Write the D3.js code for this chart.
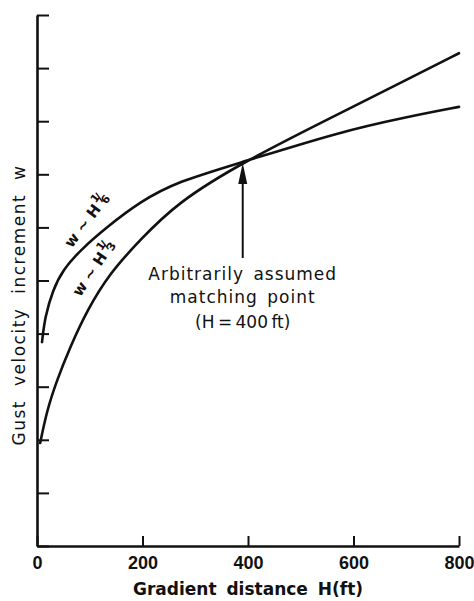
<!DOCTYPE html>
<html>
<head>
<meta charset="utf-8">
<script src="https://cdn.jsdelivr.net/npm/d3@7"></script>
<style>
  body { margin: 0; background: #fff; }
  text { font-family: "DejaVu Sans", sans-serif; fill: #111; }
</style>
</head>
<body>
<svg id="chart" width="474" height="601"></svg>
<script>
// values
const xTicks = [0, 200, 400, 600, 800];
const yTicks = [0, 1, 2, 3, 4, 5, 6, 7, 8, 9, 10];

// w ~ H^(1/6)
const gradientH6 = [9.5, 15, 30, 49, 82, 133, 195, 265, 390, 574, 701, 800];
const gustW6 = [3.84, 4.31, 4.82, 5.20, 5.57, 6.01, 6.48, 6.86, 7.23, 7.80, 8.08, 8.27];

// w ~ H^(1/3)
const gradientH3 = [6, 19, 38, 63, 95, 138, 195, 265, 390, 574, 701, 800];
const gustW3 = [1.94, 2.56, 3.13, 3.75, 4.44, 5.14, 5.76, 6.46, 7.23, 8.15, 8.78, 9.28];

// matching point
const matchH = 390;
const matchW = 7.23;
const noteLines = ["Arbitrarily assumed", "matching point", "(H = 400 ft)"];

const svg = d3.select("#chart");

const x = d3.scaleLinear().domain([0, 800]).range([37, 459]);
const y = d3.scaleLinear().domain([0, 10]).range([546, 15]);

// x axis
const xAxis = svg.append("g")
    .attr("transform", `translate(0,${y(0)})`)
    .call(d3.axisBottom(x).tickValues(xTicks).tickSize(-10).tickSizeOuter(0).tickPadding(10));
xAxis.select(".domain").attr("stroke", "#111").attr("stroke-width", 2.6);
xAxis.selectAll(".tick line").attr("stroke", "#111").attr("stroke-width", 2);
xAxis.selectAll(".tick text")
    .attr("fill", "#111")
    .style("font-family", "'Liberation Sans', sans-serif")
    .style("font-weight", "bold")
    .style("font-size", "18px");

// y axis, no numbers
const yAxis = svg.append("g")
    .attr("transform", `translate(${x(0)},0)`)
    .call(d3.axisLeft(y).tickValues(yTicks).tickSize(-12).tickSizeOuter(0).tickFormat(""));
yAxis.select(".domain").attr("stroke", "#111").attr("stroke-width", 2.6);
yAxis.selectAll(".tick line").attr("stroke", "#111").attr("stroke-width", 2);

// axis titles
svg.append("text")
    .attr("x", 248)
    .attr("y", 595)
    .attr("text-anchor", "middle")
    .style("font-size", "17px")
    .style("font-weight", "bold")
    .style("word-spacing", "4px")
    .text("Gradient distance H(ft)");

svg.append("text")
    .attr("transform", "translate(25,305) rotate(-90)")
    .attr("text-anchor", "middle")
    .style("font-size", "17px")
    .style("letter-spacing", "1.5px")
    .style("word-spacing", "7px")
    .text("Gust velocity increment w");

// curves
const line = d3.line()
    .x(d => x(d[0]))
    .y(d => y(d[1]))
    .curve(d3.curveBasis);

const curves = [
    d3.zip(gradientH6, gustW6),
    d3.zip(gradientH3, gustW3)
];

svg.selectAll(".curve")
    .data(curves)
    .enter().append("path")
    .attr("class", "curve")
    .attr("d", line)
    .attr("fill", "none")
    .attr("stroke", "#111")
    .attr("stroke-width", 2.6)
    .attr("stroke-linecap", "round");

// curve labels
const labels = [
    { h: 66, w: 5.6, angle: -53, den: "6" },
    { h: 82, w: 4.68, angle: -56, den: "3" }
];
labels.forEach(l => {
    const t = svg.append("text")
        .attr("transform", `translate(${x(l.h)},${y(l.w)}) rotate(${l.angle})`)
        .style("font-size", "15px")
        .style("font-weight", "bold");
    t.append("tspan").text("w ~ H");
    t.append("tspan").attr("dy", -8).attr("dx", 1).style("font-size", "11px").text("1");
    t.append("tspan").attr("dy", 3).attr("dx", -3).style("font-size", "13px").text("/");
    t.append("tspan").attr("dy", 6).attr("dx", -4).style("font-size", "11px").text(l.den);
});

// arrow to the matching point
const ax = x(matchH);
const tipY = y(matchW) + 1;
const baseY = 258;
svg.append("line")
    .attr("x1", ax).attr("x2", ax)
    .attr("y1", tipY + 14).attr("y2", baseY)
    .attr("stroke", "#111")
    .attr("stroke-width", 2);
svg.append("path")
    .attr("d", `M${ax},${tipY}L${ax - 4.5},${tipY + 21}L${ax + 4.5},${tipY + 21}Z`)
    .attr("fill", "#111");

// note
svg.selectAll(".note")
    .data(noteLines)
    .enter().append("text")
    .attr("class", "note")
    .attr("x", ax)
    .attr("y", (d, i) => [280, 303, 328][i])
    .attr("text-anchor", "middle")
    .style("font-size", "17px")
    .style("letter-spacing", (d, i) => i === 2 ? "0px" : "1px")
    .style("word-spacing", (d, i) => i === 2 ? "-2px" : "3px")
    .text(d => d);
</script>
</body>
</html>
